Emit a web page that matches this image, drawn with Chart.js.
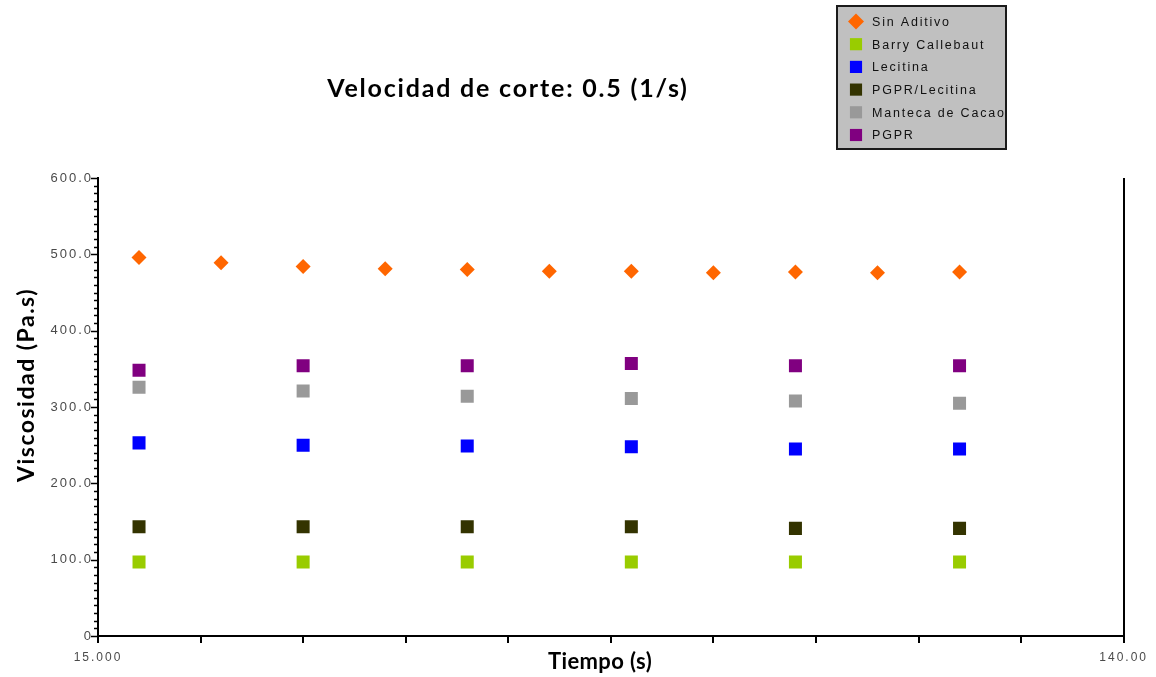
<!DOCTYPE html>
<html>
<head>
<meta charset="utf-8">
<script src="https://cdn.jsdelivr.net/npm/chart.js@4/dist/chart.umd.min.js"></script>
<style>
  html, body { margin: 0; padding: 0; background: #ffffff; }
  #wrap { width: 1156px; height: 677px; }
</style>
</head>
<body>
<div id="wrap"><canvas id="c" width="1156" height="677"></canvas></div>
<script>
// Texts
const chartTitle = 'Velocidad de corte: 0.5 (1/s)';
const xTitle = 'Tiempo (s)';
const yTitle = 'Viscosidad (Pa.s)';

// Series
const seriesNames = ['Sin Aditivo', 'Barry Callebaut', 'Lecitina', 'PGPR/Lecitina', 'Manteca de Cacao', 'PGPR'];
const seriesColors = ['#FF6600', '#99CC00', '#0000FF', '#333300', '#999999', '#800080'];
const seriesShapes = ['rectRot', 'rect', 'rect', 'rect', 'rect', 'rect'];

// Time (s)
const timeSinAditivo = [20, 30, 40, 50, 60, 70, 80, 90, 100, 110, 120];
const timeOthers = [20, 40, 60, 80, 100, 120];

// Viscosity (Pa.s)
const sinAditivo = [496, 489, 484, 481, 480, 478, 478, 476, 477, 476, 477];
const barryCallebaut = [97, 97, 97, 97, 97, 97];
const lecitina = [253, 250, 249, 248, 245, 245];
const pgprLecitina = [143, 143, 143, 143, 141, 141];
const mantecaCacao = [326, 321, 314, 311, 308, 305];
const pgpr = [348, 354, 354, 357, 354, 354];

// Axis ranges and tick labels
const xMin = 15, xMax = 140, xStep = 12.5;
const yMin = 0, yMax = 600, yMinorStep = 10, yMajorStep = 100;
const xTickLabels = { 15: '15.000', 140: '140.00' };
const yTickLabels = { 0: '0', 100: '100.0', 200: '200.0', 300: '300.0', 400: '400.0', 500: '500.0', 600: '600.0' };

const seriesX = [timeSinAditivo, timeOthers, timeOthers, timeOthers, timeOthers, timeOthers];
const seriesY = [sinAditivo, barryCallebaut, lecitina, pgprLecitina, mantecaCacao, pgpr];

const datasets = seriesNames.map((name, i) => ({
  label: name,
  data: seriesX[i].map((x, j) => ({ x: x, y: seriesY[i][j] })),
  pointStyle: seriesShapes[i],
  pointRadius: seriesShapes[i] === 'rectRot' ? 7.5 : 9.2,
  backgroundColor: seriesColors[i],
  borderColor: seriesColors[i],
  borderWidth: 0,
  showLine: false
}));

const sansFont = 'Liberation Sans, Arial, sans-serif';
const boldFont = 'Lato, "Open Sans", sans-serif';

// Wide letter spacing for the small axis numbers
const spacingPlugin = {
  id: 'spacing',
  beforeDraw(chart) { chart.ctx.letterSpacing = '2px'; },
  afterDraw(chart) { chart.ctx.letterSpacing = '0px'; }
};

// Tick marks, right frame line, titles and legend box
const decorPlugin = {
  id: 'decor',
  afterDraw(chart) {
    const ctx = chart.ctx;
    const area = chart.chartArea;
    const xs = chart.scales.x, ys = chart.scales.y;
    ctx.save();
    ctx.letterSpacing = '0px';
    ctx.strokeStyle = '#000';

    // y ticks (major and minor), pointing out of the plot
    ctx.lineWidth = 1.5;
    ys.ticks.forEach(t => {
      const py = Math.round(ys.getPixelForValue(t.value)) + 0.5;
      const len = (t.value % yMajorStep === 0) ? 7 : 4;
      ctx.beginPath();
      ctx.moveTo(area.left - len, py);
      ctx.lineTo(area.left, py);
      ctx.stroke();
    });

    // x ticks below the axis
    ctx.lineWidth = 2;
    xs.ticks.forEach(t => {
      const px = Math.round(xs.getPixelForValue(t.value));
      ctx.beginPath();
      ctx.moveTo(px, area.bottom);
      ctx.lineTo(px, area.bottom + 7);
      ctx.stroke();
    });

    // right frame line
    ctx.beginPath();
    ctx.moveTo(Math.round(area.right), area.top);
    ctx.lineTo(Math.round(area.right), area.bottom + 7);
    ctx.stroke();

    // chart title
    ctx.fillStyle = '#000';
    ctx.textAlign = 'center';
    ctx.textBaseline = 'middle';
    ctx.font = 'bold 25px ' + boldFont;
    ctx.letterSpacing = '1.8px';
    ctx.fillText(chartTitle, 508, 89);

    // x axis title
    ctx.font = 'bold 22px ' + boldFont;
    ctx.letterSpacing = '0.4px';
    ctx.fillText(xTitle, 600, 662);

    // y axis title
    ctx.save();
    ctx.translate(27, 385);
    ctx.rotate(-Math.PI / 2);
    ctx.font = 'bold 23px ' + boldFont;
    ctx.letterSpacing = '1.5px';
    ctx.fillText(yTitle, 0, 0);
    ctx.restore();

    // legend box
    const lx = 837, ly = 6, lw = 169, lh = 143;
    ctx.fillStyle = '#C0C0C0';
    ctx.fillRect(lx, ly, lw, lh);
    ctx.strokeStyle = '#1a1a1a';
    ctx.lineWidth = 2;
    ctx.strokeRect(lx, ly, lw, lh);

    ctx.font = '12.5px ' + sansFont;
    ctx.letterSpacing = '1.8px';
    ctx.textAlign = 'left';
    seriesNames.forEach((name, i) => {
      const cy = 21.5 + i * 22.7;
      ctx.fillStyle = seriesColors[i];
      Chart.helpers.drawPoint(ctx, {
        pointStyle: seriesShapes[i],
        radius: seriesShapes[i] === 'rectRot' ? 8 : 8.6,
        borderWidth: 0,
        rotation: 0
      }, 856, cy);
      ctx.fillStyle = '#111';
      ctx.fillText(name, 872, cy + 1);
    });
    ctx.restore();
  }
};

new Chart(document.getElementById('c'), {
  type: 'scatter',
  data: { datasets: datasets },
  options: {
    responsive: false,
    animation: false,
    events: [],
    layout: { padding: { left: 0, right: 30, top: 178, bottom: 0 } },
    plugins: {
      legend: { display: false },
      title: { display: false },
      tooltip: { enabled: false }
    },
    scales: {
      x: {
        type: 'linear',
        min: xMin,
        max: xMax,
        afterFit(scale) { scale.height = 41; },
        afterBuildTicks(scale) {
          const t = [];
          for (let v = xMin; v <= xMax + 1e-9; v += xStep) t.push({ value: v });
          scale.ticks = t;
        },
        ticks: {
          autoSkip: false,
          maxRotation: 0,
          padding: 14,
          color: '#4a4a4a',
          font: { family: sansFont, size: 12 },
          callback: v => xTickLabels[v] !== undefined ? xTickLabels[v] : ''
        },
        grid: { display: false, drawTicks: false },
        border: { display: true, color: '#000', width: 2 }
      },
      y: {
        type: 'linear',
        min: yMin,
        max: yMax,
        afterFit(scale) { scale.width = 98; },
        afterBuildTicks(scale) {
          const t = [];
          for (let v = yMin; v <= yMax; v += yMinorStep) t.push({ value: v });
          scale.ticks = t;
        },
        ticks: {
          autoSkip: false,
          padding: 5,
          color: '#4a4a4a',
          font: { family: sansFont, size: 13 },
          callback: v => yTickLabels[v] !== undefined ? yTickLabels[v] : ''
        },
        grid: { display: false, drawTicks: false },
        border: { display: true, color: '#000', width: 2 }
      }
    }
  },
  plugins: [spacingPlugin, decorPlugin]
});
</script>
</body>
</html>
